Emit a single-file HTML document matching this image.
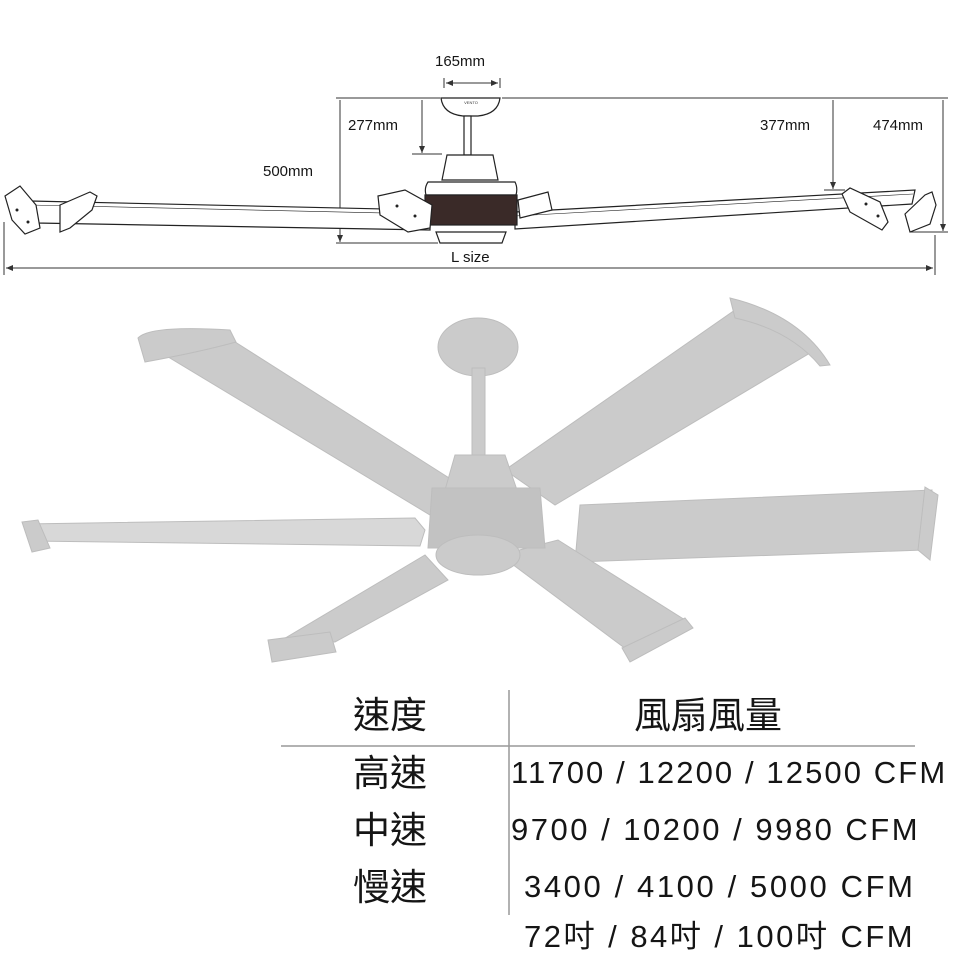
<!DOCTYPE html>
<html><head><meta charset="utf-8"><style>
html,body{margin:0;padding:0;background:#fff;width:960px;height:960px;overflow:hidden}
svg{position:absolute;left:0;top:0}
.t{position:absolute;font-family:"Liberation Sans","Noto Sans CJK TC",sans-serif;color:#151515;white-space:nowrap;line-height:1}
</style></head><body>
<svg width="960" height="960" viewBox="0 0 960 960">
<defs>
<marker id="a" markerWidth="8" markerHeight="8" refX="7" refY="4" orient="auto"><path d="M0,1 L7,4 L0,7 z" fill="#333"/></marker>
</defs>
<g stroke="#333" stroke-width="1" fill="none">
<line x1="336" y1="98" x2="440" y2="98"/><line x1="502" y1="98" x2="948" y2="98"/>
<line x1="444" y1="78" x2="444" y2="88"/><line x1="500" y1="78" x2="500" y2="88"/>
<line x1="446" y1="83" x2="498" y2="83" marker-end="url(#a)"/>
<line x1="498" y1="83" x2="446" y2="83" marker-end="url(#a)"/>
<line x1="422" y1="100" x2="422" y2="153" marker-end="url(#a)"/><line x1="412" y1="154" x2="442" y2="154"/>
<line x1="340" y1="100" x2="340" y2="242" marker-end="url(#a)"/><line x1="336" y1="243" x2="438" y2="243"/>
<line x1="833" y1="100" x2="833" y2="189" marker-end="url(#a)"/><line x1="824" y1="190" x2="845" y2="190"/>
<line x1="943" y1="100" x2="943" y2="231" marker-end="url(#a)"/><line x1="910" y1="232" x2="948" y2="232"/>
<line x1="4" y1="222" x2="4" y2="275"/><line x1="935" y1="235" x2="935" y2="275"/>
<line x1="6" y1="268" x2="933" y2="268" marker-end="url(#a)"/>
<line x1="933" y1="268" x2="6" y2="268" marker-end="url(#a)"/>
</g>
<g stroke="#222" stroke-width="1.2" fill="#fff">
<path d="M30,201 L430,210 L430,230 L36,223 Z"/>
<path d="M30,205 L430,214" stroke-width="0.6"/>
<path d="M515,212 L915,190 L912,204 L515,229 Z"/>
<path d="M515,216 L913,194" stroke-width="0.6"/>
<path d="M5,196 L20,186 L36,205 L40,228 L25,234 L12,220 Z"/>
<path d="M60,205 L90,192 L97,196 L92,210 L70,228 L60,232 Z"/>
<path d="M842,194 L850,188 L880,202 L888,222 L882,230 L850,212 Z"/>
<path d="M905,214 L925,195 L932,192 L936,205 L930,224 L910,232 Z"/>
<path d="M441,98 L500,98 Q498,114 478,116 L463,116 Q443,114 441,98 Z"/>
<rect x="464" y="116" width="7" height="39"/>
<path d="M447,155 L493,155 L498,180 L442,180 Z"/>
<path d="M428,182 L515,182 Q518,188 516,195 L426,195 Q424,188 428,182 Z"/>
<rect x="425" y="195" width="92" height="30" fill="#3a2a28"/>
<path d="M378,196 L405,190 L432,205 L430,228 L408,232 L380,215 Z"/>
<path d="M518,200 L548,192 L552,210 L520,218 Z"/>
<path d="M436,232 L506,232 L502,243 L440,243 Z"/>
</g>
<g fill="#222"><circle cx="17" cy="210" r="1.5"/><circle cx="28" cy="222" r="1.5"/><circle cx="397" cy="206" r="1.5"/><circle cx="415" cy="216" r="1.5"/><circle cx="866" cy="204" r="1.5"/><circle cx="878" cy="216" r="1.5"/></g>
<text x="471" y="104" font-size="4" font-family="Liberation Sans" fill="#333" text-anchor="middle">VENTO</text>
<g fill="#cbcbcb" stroke="#bdbdbd" stroke-width="1">
<path d="M25,524 L415,518 L425,530 L420,546 L30,541 Z" fill="#d8d8d8"/>
<path d="M22,522 L38,520 L50,548 L32,552 Z"/>
<path d="M160,352 L232,340 L468,490 L430,515 Z"/>
<path d="M138,338 Q150,325 230,330 L236,342 Q200,352 145,362 Z"/>
<path d="M735,310 L815,350 L555,505 L505,470 Z"/>
<path d="M730,298 Q800,315 830,365 L820,366 Q790,330 735,318 Z"/>
<path d="M580,505 L932,490 L924,550 L575,562 Z"/>
<path d="M925,487 L938,495 L930,560 L918,550 Z"/>
<path d="M425,555 L448,580 L335,642 L282,640 Z"/>
<path d="M268,640 L330,632 L336,652 L272,662 Z"/>
<path d="M500,555 L558,540 L685,620 L630,652 Z"/>
<path d="M622,648 L685,618 L693,628 L630,662 Z"/>
<ellipse cx="478" cy="347" rx="40" ry="29"/>
<rect x="472" y="368" width="13" height="90"/>
<path d="M455,455 L505,455 L517,490 L445,490 Z"/>
<path d="M432,488 L540,488 L545,548 L428,548 Z" fill="#c2c2c2"/>
<ellipse cx="478" cy="555" rx="42" ry="20"/>
</g>
<line x1="509" y1="690" x2="509" y2="915" stroke="#999" stroke-width="1.5"/>
<line x1="281" y1="746" x2="915" y2="746" stroke="#999" stroke-width="1.5"/>
</svg>
<div class="t" style="left:435px;top:54px;font-size:15px">165mm</div>
<div class="t" style="left:348px;top:118px;font-size:15px">277mm</div>
<div class="t" style="left:263px;top:164px;font-size:15px">500mm</div>
<div class="t" style="left:760px;top:118px;font-size:15px">377mm</div>
<div class="t" style="left:873px;top:118px;font-size:15px">474mm</div>
<div class="t" style="left:451px;top:250px;font-size:15px">L size</div>
<div class="t" style="left:353px;top:697px;font-size:37px">速度</div>
<div class="t" style="left:634px;top:697px;font-size:37px">風扇風量</div>
<div class="t" style="left:353px;top:755px;font-size:37px">高速</div>
<div class="t" style="left:353px;top:812px;font-size:37px">中速</div>
<div class="t" style="left:353px;top:869px;font-size:37px">慢速</div>
<div class="t" style="left:511px;top:757px;font-size:31px;letter-spacing:2.1px">11700 / 12200 / 12500 CFM</div>
<div class="t" style="left:511px;top:814px;font-size:31px;letter-spacing:2.5px">9700 / 10200 / 9980 CFM</div>
<div class="t" style="left:524px;top:871px;font-size:31px;letter-spacing:2.6px">3400 / 4100 / 5000 CFM</div>
<div class="t" style="left:524px;top:921px;font-size:31px;letter-spacing:2.5px">72吋 / 84吋 / 100吋 CFM</div>
</body></html>
